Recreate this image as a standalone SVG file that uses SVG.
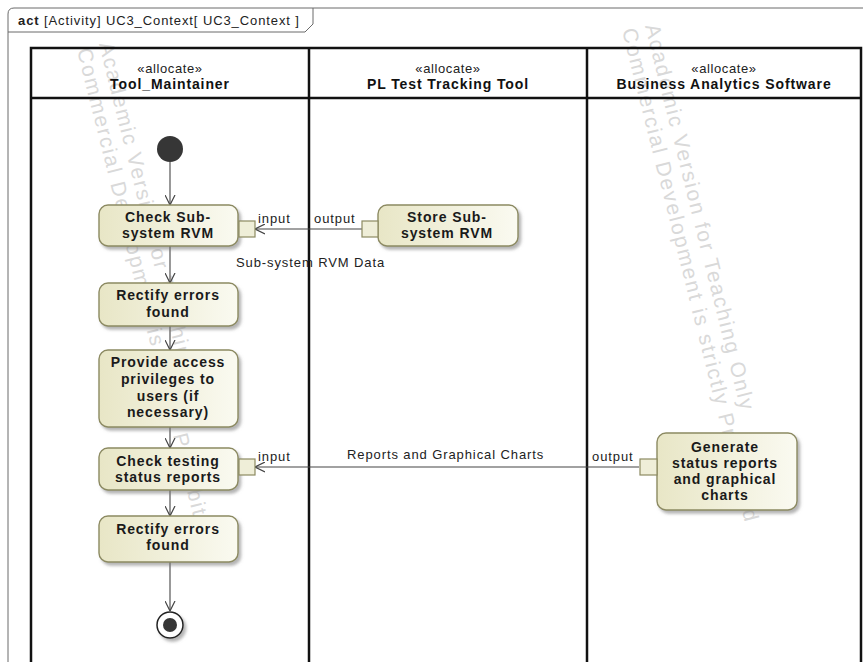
<svg xmlns="http://www.w3.org/2000/svg" width="863" height="662" viewBox="0 0 863 662">
  <style>
    .frame { fill: none; stroke: #6a6a6a; stroke-width: 1; }
    .lane { fill: none; stroke: #111; stroke-width: 2.5; }
    .action { stroke: #8c8a62; stroke-width: 1.4; fill: url(#actionFill); filter: url(#shadow); }
    .pin { stroke: #8c8a62; stroke-width: 1.2; fill: #efeed8; }
    .label { font-family: "Liberation Sans", Arial, sans-serif; font-size: 13px; letter-spacing: 0.9px; fill: #222; }
    .bold { font-family: "Liberation Sans", Arial, sans-serif; font-size: 14px; font-weight: bold; letter-spacing: 0.9px; fill: #1a1a1a; }
    .head { font-family: "Liberation Sans", Arial, sans-serif; font-size: 14px; font-weight: bold; letter-spacing: 0.9px; fill: #111; text-anchor: middle; }
    .stereo { font-family: "Liberation Sans", Arial, sans-serif; font-size: 13px; letter-spacing: 0.6px; fill: #222; text-anchor: middle; }
    .mid { text-anchor: middle; }
    .flow { fill: none; stroke: #444; stroke-width: 1.1; marker-end: url(#open); }
    .wm { font-family: "Liberation Sans", Arial, sans-serif; font-size: 21px; letter-spacing: 1.8px; fill: #d9d9d9; }
  </style>
  <defs>
    <linearGradient id="actionFill" x1="0" y1="0" x2="1" y2="0">
      <stop offset="0" stop-color="#e8e6c6"/>
      <stop offset="1" stop-color="#fafaf1"/>
    </linearGradient>
    <filter id="shadow" x="-10%" y="-10%" width="130%" height="140%">
      <feDropShadow dx="2.5" dy="3" stdDeviation="1.5" flood-color="#777" flood-opacity="0.55"/>
    </filter>
    <marker id="open" viewBox="0 0 10 10" refX="10" refY="5" markerWidth="10" markerHeight="11" markerUnits="userSpaceOnUse" orient="auto">
      <path d="M0,0 L10,5 L0,10" fill="none" stroke="#444" stroke-width="1.2"/>
    </marker>
  </defs>

  <rect width="863" height="662" fill="#fff"/>

  <!-- diagram frame with name tab -->
  <g id="frame">
    <path class="frame" d="M8,700 L8,14 Q8,8 14,8 L900,8"/>
    <path class="frame" d="M8,32 L305,32 L313,24 L313,8"/>
    <text x="18" y="25" class="label"><tspan font-weight="bold">act</tspan> [Activity] UC3_Context[ UC3_Context ]</text>
  </g>

  <!-- watermark -->
  <g id="watermark">
    <text class="wm" transform="translate(99,44) rotate(76)">Academic Version for Teaching Only</text>
    <text class="wm" transform="translate(77,50) rotate(76)">Commercial Development is strictly Prohibited</text>
    <text class="wm" transform="translate(645,26) rotate(76)">Academic Version for Teaching Only</text>
    <text class="wm" transform="translate(622,30) rotate(76)">Commercial Development is strictly Prohibited</text>
  </g>

  <!-- swimlanes -->
  <g id="lanes">
    <rect class="lane" x="31" y="48" width="830" height="660"/>
    <line class="lane" x1="31" y1="98" x2="861" y2="98"/>
    <line class="lane" x1="309" y1="48" x2="309" y2="662"/>
    <line class="lane" x1="587" y1="48" x2="587" y2="662"/>
    <text class="stereo" x="170" y="73">«allocate»</text>
    <text class="head" x="170" y="89">Tool_Maintainer</text>
    <text class="stereo" x="448" y="73">«allocate»</text>
    <text class="head" x="448" y="89">PL Test Tracking Tool</text>
    <text class="stereo" x="724" y="73">«allocate»</text>
    <text class="head" x="724" y="89">Business Analytics Software</text>
  </g>

  <!-- flows -->
  <g id="connectors">
    <line class="flow" x1="170" y1="162" x2="170" y2="205"/>
    <line class="flow" x1="170" y1="246" x2="170" y2="283"/>
    <line class="flow" x1="170" y1="326" x2="170" y2="350"/>
    <line class="flow" x1="170" y1="427" x2="170" y2="448"/>
    <line class="flow" x1="170" y1="490" x2="170" y2="516"/>
    <line class="flow" x1="170" y1="562" x2="170" y2="611"/>
    <line class="flow" x1="362" y1="229" x2="255" y2="229"/>
    <line class="flow" x1="639" y1="467" x2="255" y2="467"/>
    <text class="label" x="236" y="267">Sub-system RVM Data</text>
    <text class="label" x="347" y="459">Reports and Graphical Charts</text>
  </g>

  <!-- nodes -->
  <g id="initial">
    <circle cx="170" cy="149" r="13" fill="#363636"/>
  </g>

  <g id="check-subsystem-rvm">
    <rect class="action" x="99" y="205" width="139" height="41" rx="9"/>
    <rect class="pin" x="239" y="221" width="16" height="16"/>
    <text class="bold mid" x="168" y="222">Check Sub-</text>
    <text class="bold mid" x="168" y="238">system RVM</text>
    <text class="label" x="258" y="223">input</text>
  </g>

  <g id="store-subsystem-rvm">
    <rect class="action" x="378" y="205" width="140" height="41" rx="9"/>
    <rect class="pin" x="362" y="221" width="16" height="16"/>
    <text class="bold mid" x="447" y="222">Store Sub-</text>
    <text class="bold mid" x="447" y="238">system RVM</text>
    <text class="label" x="314" y="223">output</text>
  </g>

  <g id="rectify-errors-1">
    <rect class="action" x="99" y="283" width="139" height="43" rx="9"/>
    <text class="bold mid" x="168" y="300">Rectify errors</text>
    <text class="bold mid" x="168" y="317">found</text>
  </g>

  <g id="provide-access">
    <rect class="action" x="99" y="350" width="139" height="77" rx="9"/>
    <text class="bold mid" x="168" y="367">Provide access</text>
    <text class="bold mid" x="168" y="384">privileges to</text>
    <text class="bold mid" x="168" y="401">users (if</text>
    <text class="bold mid" x="168" y="417">necessary)</text>
  </g>

  <g id="check-testing-status">
    <rect class="action" x="99" y="448" width="139" height="42" rx="9"/>
    <rect class="pin" x="239" y="459" width="16" height="16"/>
    <text class="bold mid" x="168" y="466">Check testing</text>
    <text class="bold mid" x="168" y="482">status reports</text>
    <text class="label" x="258" y="461">input</text>
  </g>

  <g id="rectify-errors-2">
    <rect class="action" x="99" y="516" width="139" height="46" rx="9"/>
    <text class="bold mid" x="168" y="534">Rectify errors</text>
    <text class="bold mid" x="168" y="550">found</text>
  </g>

  <g id="generate-reports">
    <rect class="action" x="657" y="433" width="140" height="77" rx="9"/>
    <rect class="pin" x="640" y="459" width="17" height="16"/>
    <text class="bold mid" x="725" y="452">Generate</text>
    <text class="bold mid" x="725" y="468">status reports</text>
    <text class="bold mid" x="725" y="484">and graphical</text>
    <text class="bold mid" x="725" y="500">charts</text>
    <text class="label" x="592" y="461">output</text>
  </g>

  <g id="final">
    <circle cx="170" cy="625" r="13" fill="#fff" stroke="#222" stroke-width="1.5" filter="url(#shadow)"/>
    <circle cx="170" cy="625" r="7" fill="#363636"/>
  </g>
</svg>
